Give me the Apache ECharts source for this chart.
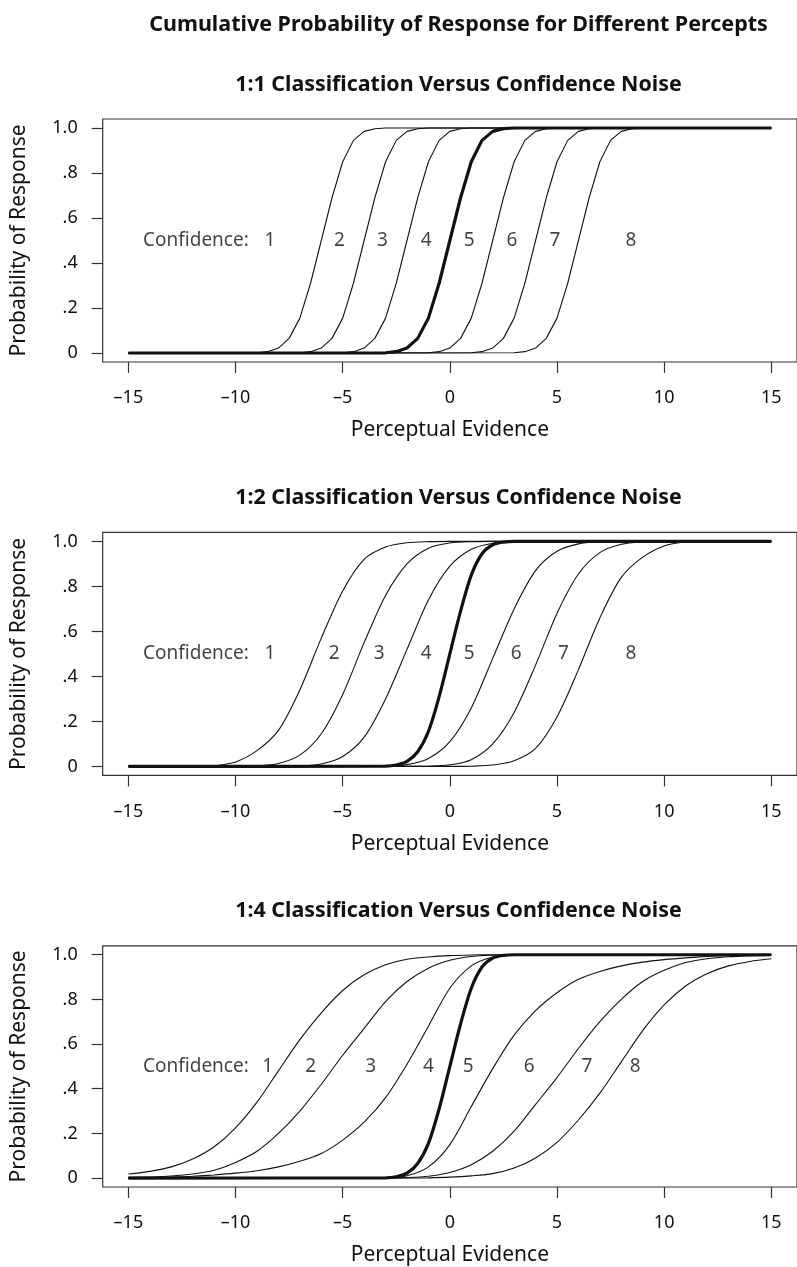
<!DOCTYPE html>
<html lang="en">
<head>
<meta charset="UTF-8">
<title>Cumulative Probability of Response</title>
<script src="https://cdn.jsdelivr.net/npm/echarts@6/dist/echarts.min.js"></script>
<style>
  html, body { margin: 0; padding: 0; background: #fff; }
  #main { width: 797px; height: 1267px; }
</style>
</head>
<body>
<div id="main"></div>
<script>
// tick values / labels
var xTicks = [-15, -10, -5, 0, 5, 10, 15];
var yTicks = [0, 0.2, 0.4, 0.6, 0.8, 1];
var yTickLabels = ['0', '.2', '.4', '.6', '.8', '1.0'];

var panelTitles = [
    '1:1 Classification Versus Confidence Noise',
    '1:2 Classification Versus Confidence Noise',
    '1:4 Classification Versus Confidence Noise'
];

// in-plot labels: text, x position (y at .5)
var confText = ['Confidence:', '1', '2', '3', '4', '5', '6', '7', '8'];
var confX1 = [-11.85, -8.4, -5.15, -3.15, -1.1, 0.9, 2.9, 4.9, 8.45];
var confX2 = [-11.85, -8.4, -5.4, -3.3, -1.1, 0.9, 3.1, 5.3, 8.45];
var confX3 = [-11.85, -8.5, -6.5, -3.7, -1.0, 0.85, 3.7, 6.4, 8.65];

// ---- panel 1 (1:1) ----
var p1c1 = [[-15,0],[-9,0.001],[-8.5,0.006],[-8,0.022],[-7.5,0.065],[-7,0.155],[-6.5,0.31],[-6,0.5],[-5.5,0.69],[-5,0.85],[-4.5,0.945],[-4,0.985],[-3.5,0.997],[-3,1],[15,1]];
var p1c2 = [[-15,0],[-7,0.001],[-6.5,0.006],[-6,0.022],[-5.5,0.065],[-5,0.155],[-4.5,0.31],[-4,0.5],[-3.5,0.69],[-3,0.85],[-2.5,0.945],[-2,0.985],[-1.5,0.997],[-1,1],[15,1]];
var p1c3 = [[-15,0],[-5,0.001],[-4.5,0.006],[-4,0.022],[-3.5,0.065],[-3,0.155],[-2.5,0.31],[-2,0.5],[-1.5,0.69],[-1,0.85],[-0.5,0.945],[0,0.985],[0.5,0.997],[1,1],[15,1]];
var p1c4 = [[-15,0],[-3,0.001],[-2.5,0.006],[-2,0.022],[-1.5,0.065],[-1,0.155],[-0.5,0.31],[0,0.5],[0.5,0.69],[1,0.85],[1.5,0.945],[2,0.985],[2.5,0.997],[3,1],[15,1]];
var p1c5 = [[-15,0],[-1,0.001],[-0.5,0.006],[0,0.022],[0.5,0.065],[1,0.155],[1.5,0.31],[2,0.5],[2.5,0.69],[3,0.85],[3.5,0.945],[4,0.985],[4.5,0.997],[5,1],[15,1]];
var p1c6 = [[-15,0],[1,0.001],[1.5,0.006],[2,0.022],[2.5,0.065],[3,0.155],[3.5,0.31],[4,0.5],[4.5,0.69],[5,0.85],[5.5,0.945],[6,0.985],[6.5,0.997],[7,1],[15,1]];
var p1c7 = [[-15,0],[3,0.001],[3.5,0.006],[4,0.022],[4.5,0.065],[5,0.155],[5.5,0.31],[6,0.5],[6.5,0.69],[7,0.85],[7.5,0.945],[8,0.985],[8.5,0.997],[9,1],[15,1]];

// ---- panel 2 (1:2) ----
var p2c1 = [[-15,0],[-12,0],[-11,0.003],[-10,0.02],[-9,0.07],[-8,0.16],[-7,0.34],[-6,0.57],[-5,0.78],[-4,0.92],[-3,0.975],[-2,0.994],[-1,0.999],[0,1],[15,1]];
var p2c2 = [[-15,0],[-10,0],[-9,0.002],[-8,0.013],[-7,0.05],[-6,0.145],[-5,0.32],[-4,0.55],[-3,0.76],[-2,0.9],[-1,0.97],[0,0.993],[1,0.999],[2,1],[15,1]];
var p2c3 = [[-15,0],[-8,0],[-7,0.002],[-6,0.011],[-5,0.044],[-4,0.13],[-3,0.3],[-2,0.52],[-1,0.74],[0,0.89],[1,0.965],[2,0.992],[3,0.999],[4,1],[15,1]];
var p2c4 = [[-15,0],[-3,0.001],[-2.5,0.006],[-2,0.022],[-1.5,0.065],[-1,0.155],[-0.5,0.31],[0,0.5],[0.5,0.69],[1,0.85],[1.5,0.945],[2,0.985],[2.5,0.997],[3,1],[15,1]];
var p2c5 = [[-15,0],[-4,0],[-3,0.001],[-2,0.008],[-1,0.035],[0,0.11],[1,0.26],[2,0.48],[3,0.7],[4,0.87],[5,0.956],[6,0.989],[7,0.998],[8,1],[15,1]];
var p2c6 = [[-15,0],[-2,0],[-1,0.001],[0,0.007],[1,0.03],[2,0.1],[3,0.24],[4,0.45],[5,0.68],[6,0.855],[7,0.95],[8,0.987],[9,0.998],[10,1],[15,1]];
var p2c7 = [[-15,0],[0,0],[1,0.001],[2,0.006],[3,0.025],[4,0.08],[5,0.22],[6,0.43],[7,0.66],[8,0.84],[9,0.93],[10,0.98],[11,0.997],[12,1],[15,1]];

// ---- panel 3 (1:4) ----
var p3c1 = [[-15,0.018],[-14,0.03],[-13,0.05],[-12,0.085],[-11,0.14],[-10,0.225],[-9,0.34],[-8,0.48],[-7,0.62],[-6,0.74],[-5,0.84],[-4,0.91],[-3,0.955],[-2,0.98],[-1,0.99],[0,0.996],[1,0.999],[2,1],[15,1]];
var p3c2 = [[-15,0.003],[-14,0.005],[-13,0.009],[-12,0.018],[-11,0.035],[-10,0.07],[-9,0.12],[-8,0.2],[-7,0.3],[-6,0.42],[-5,0.55],[-4,0.67],[-3,0.79],[-2,0.88],[-1,0.94],[0,0.975],[1,0.992],[2,0.998],[3,1],[15,1]];
var p3c3 = [[-15,0],[-14,0.002],[-13,0.004],[-12,0.008],[-11,0.014],[-10,0.022],[-9,0.033],[-8,0.05],[-7,0.075],[-6,0.11],[-5,0.17],[-4,0.25],[-3,0.36],[-2,0.51],[-1,0.68],[0,0.85],[1,0.95],[2,0.99],[3,1],[15,1]];
var p3c4 = [[-15,0],[-3,0.001],[-2.5,0.006],[-2,0.022],[-1.5,0.065],[-1,0.155],[-0.5,0.31],[0,0.5],[0.5,0.69],[1,0.85],[1.5,0.945],[2,0.985],[2.5,0.997],[3,1],[15,1]];
var p3c5 = [[-15,0],[-3,0],[-2,0.01],[-1,0.05],[0,0.15],[1,0.32],[2,0.49],[3,0.64],[4,0.75],[5,0.83],[6,0.89],[7,0.925],[8,0.95],[9,0.967],[10,0.978],[11,0.986],[12,0.992],[13,0.996],[14,0.998],[15,1]];
var p3c6 = [[-15,0],[-3,0],[-2,0.002],[-1,0.008],[0,0.025],[1,0.06],[2,0.12],[3,0.21],[4,0.33],[5,0.45],[6,0.58],[7,0.7],[8,0.8],[9,0.88],[10,0.93],[11,0.965],[12,0.982],[13,0.991],[14,0.995],[15,0.997]];
var p3c7 = [[-15,0],[-2,0],[-1,0.001],[0,0.004],[1,0.01],[2,0.02],[3,0.045],[4,0.09],[5,0.16],[6,0.26],[7,0.38],[8,0.52],[9,0.66],[10,0.775],[11,0.86],[12,0.915],[13,0.95],[14,0.97],[15,0.982]];

var panels = [
    {curves: [p1c1, p1c2, p1c3, p1c4, p1c5, p1c6, p1c7], smooth: false, confX: confX1},
    {curves: [p2c1, p2c2, p2c3, p2c4, p2c5, p2c6, p2c7], smooth: true, confX: confX2},
    {curves: [p3c1, p3c2, p3c3, p3c4, p3c5, p3c6, p3c7], smooth: true, confX: confX3}
];

var FONT = "'Noto Sans', sans-serif";
var INK = '#111';
var gridLeft = 102.7, gridWidth = 701.6, gridHeight = 243;
var gridTops = [119, 532.4, 945.8];
var plotCenter = 453.5;

var myChart = echarts.init(document.getElementById('main'), null, {renderer: 'canvas'});

var titles = [{
    text: 'Cumulative Probability of Response for Different Percepts',
    left: plotCenter, top: 9, textAlign: 'center',
    textStyle: {fontFamily: FONT, fontSize: 21.5, fontWeight: 'bold', color: INK}
}];
var grids = [], xAxes = [], yAxes = [], series = [];

panels.forEach(function (p, i) {
    titles.push({
        text: panelTitles[i],
        left: plotCenter, top: gridTops[i] - 50, textAlign: 'center',
        textStyle: {fontFamily: FONT, fontSize: 21.4, fontWeight: 'bold', color: INK}
    });
    grids.push({
        left: gridLeft, top: gridTops[i], width: gridWidth, height: gridHeight,
        show: true, borderColor: '#333', borderWidth: 1.2, backgroundColor: 'transparent'
    });
    xAxes.push({
        gridIndex: i, type: 'value', min: -16.2, max: 16.2,
        name: 'Perceptual Evidence', nameLocation: 'middle', nameGap: 58,
        nameTextStyle: {fontFamily: FONT, fontSize: 21, color: INK},
        axisLine: {show: false, onZero: false},
        splitLine: {show: false},
        axisTick: {show: true, length: 11, customValues: xTicks, lineStyle: {color: '#333', width: 1.2}},
        axisLabel: {
            customValues: xTicks, margin: 27,
            fontFamily: FONT, fontSize: 18, color: INK,
            formatter: function (v) { return v < 0 ? '\u2013' + Math.abs(v) : String(v); }
        }
    });
    yAxes.push({
        gridIndex: i, type: 'value', min: -0.04, max: 1.04,
        name: 'Probability of Response', nameLocation: 'middle', nameGap: 73,
        nameTextStyle: {fontFamily: FONT, fontSize: 21, color: INK},
        axisLine: {show: false, onZero: false},
        splitLine: {show: false},
        axisTick: {show: true, length: 11, customValues: yTicks, lineStyle: {color: '#333', width: 1.2}},
        axisLabel: {
            customValues: yTicks, margin: 25,
            fontFamily: FONT, fontSize: 18, color: INK,
            formatter: function (v) { return yTickLabels[yTicks.indexOf(Math.round(v * 10) / 10)]; }
        }
    });
    p.curves.forEach(function (c, k) {
        var thick = (k === 3);
        series.push({
            type: 'line', xAxisIndex: i, yAxisIndex: i,
            data: c, showSymbol: false, silent: true,
            smooth: p.smooth ? 0.3 : false,
            z: thick ? 5 : 3,
            lineStyle: {color: '#111', width: thick ? 3.2 : 1.1}
        });
    });
    // text labels inside the plot
    series.push({
        type: 'scatter', xAxisIndex: i, yAxisIndex: i, symbolSize: 0, silent: true,
        data: p.confX.map(function (x, k) { return {value: [x, 0.5], name: confText[k]}; }),
        label: {
            show: true, position: 'inside', formatter: '{b}',
            fontFamily: FONT, fontSize: 19, color: INK
        }
    });
});

var option = {
    animation: false,
    backgroundColor: '#fff',
    title: titles,
    grid: grids,
    xAxis: xAxes,
    yAxis: yAxes,
    series: series
};
myChart.setOption(option);
</script>
</body>
</html>
